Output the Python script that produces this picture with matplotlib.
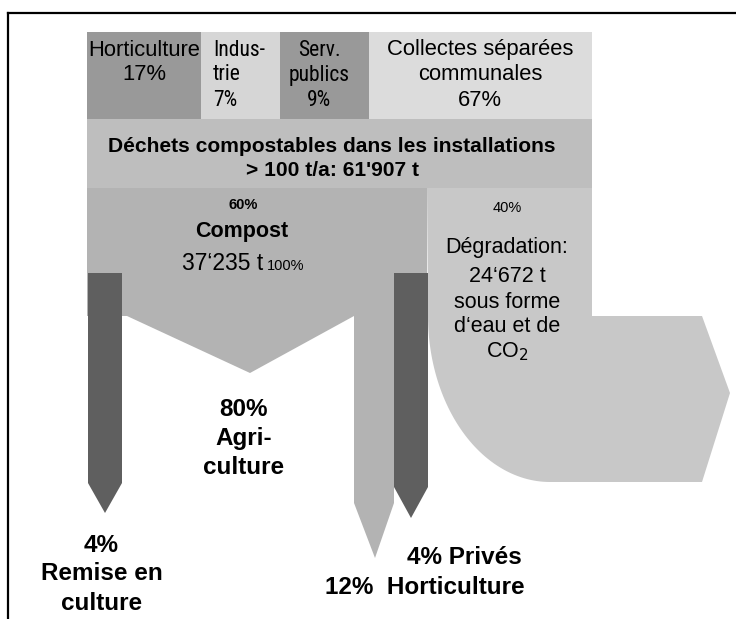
import matplotlib
matplotlib.use("Agg")
import matplotlib.pyplot as plt
from matplotlib.patches import Polygon, Rectangle
from matplotlib import font_manager
import numpy as np

# ---------------- data ----------------
source_labels = ["Horticulture", "Indus-\ntrie", "Serv.\npublics", "Collectes séparées\ncommunales"]
source_shares = [17, 7, 9, 67]
total_label = "Déchets compostables dans les installations\n> 100 t/a: 61'907 t"
split_shares = [60, 40]
compost_tonnes = "37‘235"
degradation_tonnes = "24‘672"
use_labels = ["Remise en\nculture", "Agri-\nculture", "Horticulture", "Privés"]
use_shares = [4, 80, 12, 4]

# ---------------- fonts ----------------
names = {f.name for f in font_manager.fontManager.ttflist}
REG = "Liberation Sans"
NARROW = REG
for cand in ["Liberation Sans Narrow", "Roboto Condensed", "PT Sans Narrow"]:
    if cand in names:
        NARROW = cand
        break

# ---------------- colours ----------------
C_DARK_SRC = "#999999"
C_LIGHT_SRC = "#d6d6d6"
C_COLL = "#dcdcdc"
C_TOTAL = "#bebebe"
C_COMPOST = "#b3b3b3"
C_DEGR = "#c8c8c8"
C_BAR = "#5f5f5f"

fig = plt.figure(figsize=(7.36, 6.19), dpi=100)
ax = fig.add_axes([0, 0, 1, 1])
ax.set_xlim(0, 736)
ax.set_ylim(619, 0)
ax.axis("off")

# frame (top and left visible)
ax.plot([8, 736], [13, 13], color="black", lw=1.6, solid_capstyle="projecting")
ax.plot([8, 8], [13, 619], color="black", lw=1.6, solid_capstyle="projecting")

# ---------------- layout ----------------
src_edges = [87, 201, 280, 369, 592]
src_cols = [C_DARK_SRC, C_LIGHT_SRC, C_DARK_SRC, C_COLL]
row1 = (32, 119)
row2 = (119, 188)

for i in range(4):
    ax.add_patch(Rectangle((src_edges[i], row1[0]), src_edges[i + 1] - src_edges[i],
                           row1[1] - row1[0], color=src_cols[i], lw=0))
ax.add_patch(Rectangle((87, row2[0]), 592 - 87, row2[1] - row2[0], color=C_TOTAL, lw=0))

# degradation flow (curving to the right)
theta = np.linspace(np.pi / 2, np.pi, 60)
cx, cy, a, b = 550, 316, 122, 166
arc_x = cx + a * np.cos(theta)
arc_y = cy + b * np.sin(theta)
degr = [(427, 188), (592, 188), (592, 316), (702, 316), (730, 393), (702, 482)]
degr += list(zip(arc_x, arc_y))
degr += [(427, 188)]
ax.add_patch(Polygon(degr, closed=True, color=C_DEGR, lw=0))

# compost block with V notch
comp = [(87, 188), (427, 188), (427, 316), (354, 316), (250, 373), (127, 316), (87, 316)]
ax.add_patch(Polygon(comp, closed=True, color=C_COMPOST, lw=0))

# horticulture arrow (light)
ax.add_patch(Polygon([(354, 300), (394, 300), (394, 503), (375, 558), (354, 503)],
                     closed=True, color=C_COMPOST, lw=0))
# dark arrows
ax.add_patch(Polygon([(88, 273), (122, 273), (122, 483), (105, 513), (88, 483)],
                     closed=True, color=C_BAR, lw=0))
ax.add_patch(Polygon([(394, 273), (428, 273), (428, 487), (411, 518), (394, 487)],
                     closed=True, color=C_BAR, lw=0))

# ---------------- texts ----------------
def t(x, y, s, size, fam=REG, weight="normal", ha="center", va="center"):
    ax.text(x, y, s, fontsize=size, family=fam, weight=weight, ha=ha, va=va, color="black")

Y1 = [50, 75, 100]
t(144, Y1[0], source_labels[0], 15.8)
t(144, Y1[1], f"{source_shares[0]}%", 15.8)
ind = source_labels[1].split("\n")
t(213, Y1[0], ind[0], 15.5, NARROW, ha="left")
t(213, Y1[1], ind[1], 15.5, NARROW, ha="left")
t(213, Y1[2], f"{source_shares[1]}%", 15.5, NARROW, ha="left")
srv = source_labels[2].split("\n")
t(319, Y1[0], srv[0], 15.5, NARROW)
t(319, Y1[1], srv[1], 15.5, NARROW)
t(319, Y1[2], f"{source_shares[2]}%", 15.5, NARROW)
col = source_labels[3].split("\n")
t(480, Y1[0], col[0], 15.8)
t(480, Y1[1], col[1], 15.8)
t(480, Y1[2], f"{source_shares[3]}%", 15.8)

tl = total_label.split("\n")
t(332, 146, tl[0], 15.1, REG, "bold")
t(332, 170, tl[1], 15.1, REG, "bold")

t(243, 205, f"{split_shares[0]}%", 10.5, REG, "bold")
t(242, 232, "Compost", 15.5, REG, "bold")
ax.text(263, 270, f"{compost_tonnes} t", fontsize=16.5, family=REG, ha="right", va="baseline")
ax.text(267, 270, "100%", fontsize=10.5, family=REG, ha="left", va="baseline")

t(507, 208, f"{split_shares[1]}%", 10.5)
for yy, s in zip([248, 277, 302, 327, 352],
                 ["Dégradation:", f"{degradation_tonnes} t", "sous forme", "d‘eau et de", "CO$_2$"]):
    t(507, yy, s, 15.5)

BS = 17.5
t(244, 410, f"{use_shares[1]}%", BS, REG, "bold")
ag = use_labels[1].split("\n")
t(244, 438, ag[0], BS, REG, "bold")
t(244, 468, ag[1], BS, REG, "bold")

t(101, 545, f"{use_shares[0]}%", BS, REG, "bold")
rm = use_labels[0].split("\n")
t(102, 574, rm[0], BS, REG, "bold")
t(102, 603, rm[1], BS, REG, "bold")

t(464, 558, f"{use_shares[3]}% {use_labels[3]}", BS, REG, "bold")
t(425, 588, f"{use_shares[2]}%  {use_labels[2]}", BS, REG, "bold")

fig.savefig("out.png", dpi=100)
